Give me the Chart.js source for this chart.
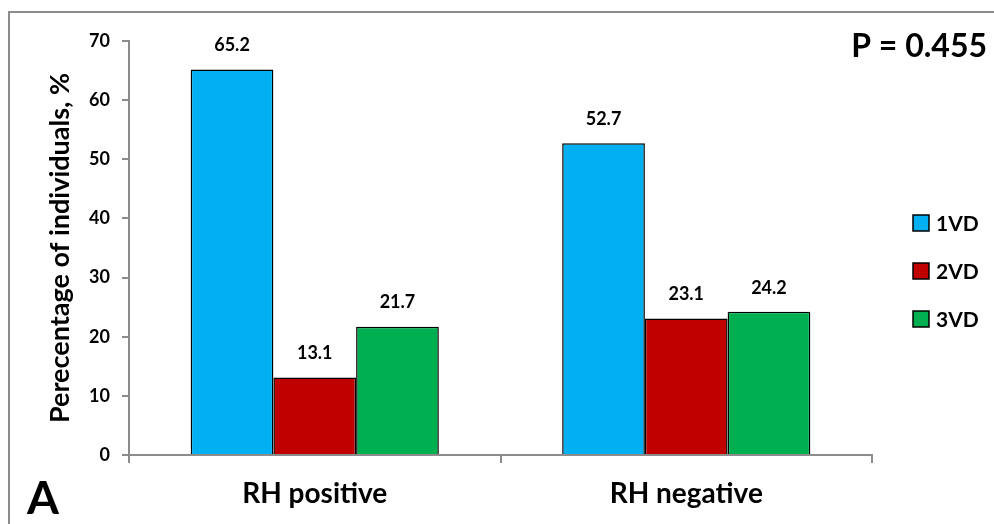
<!DOCTYPE html>
<html>
<head>
<meta charset="utf-8">
<script src="https://cdn.jsdelivr.net/npm/chart.js@4.4.1/dist/chart.umd.min.js"></script>
<style>
  html, body { margin: 0; padding: 0; background: #fff; }
  #wrap { width: 994px; height: 524px; position: relative; }
</style>
</head>
<body>
<div id="wrap"><canvas id="myChart"></canvas></div>
<script>
// Dados do gráfico
const categorias = ["RH positive", "RH negative"];
const series = ["1VD", "2VD", "3VD"];
const valores1VD = [65.2, 52.7];
const valores2VD = [13.1, 23.1];
const valores3VD = [21.7, 24.2];
const cores = ["#00B0F0", "#C00000", "#00B050"];
const ticksY = [0, 10, 20, 30, 40, 50, 60, 70];
const textoP = "P = 0.455";
const letraPainel = "A";

const cinza = "#8c8c8c";
const fonte = "Lato";

// Moldura, textos extras, rótulos e legenda
const extras = {
  id: "extras",
  beforeDraw(chart) {
    const ctx = chart.ctx;
    ctx.save();
    ctx.strokeStyle = cinza;
    ctx.lineWidth = 2;
    ctx.strokeRect(9, 12, chart.width + 20, chart.height + 20);
    ctx.restore();
  },
  afterDatasetsDraw(chart) {
    const ctx = chart.ctx;
    ctx.save();
    ctx.fillStyle = "#000";
    ctx.textAlign = "center";
    ctx.textBaseline = "middle";
    ctx.font = `bold 18px ${fonte}`;
    chart.data.datasets.forEach((ds, i) => {
      chart.getDatasetMeta(i).data.forEach((bar, j) => {
        ctx.fillText(ds.data[j].toFixed(1), bar.x, bar.y - 24);
      });
    });

    // legenda
    const area = chart.chartArea;
    ctx.textAlign = "left";
    ctx.font = `bold 21px ${fonte}`;
    chart.data.datasets.forEach((ds, i) => {
      const y = 223 + i * 48;
      const x = area.right + 41;
      ctx.fillStyle = ds.backgroundColor;
      ctx.fillRect(x, y - 8, 16, 16);
      ctx.strokeStyle = "#000";
      ctx.lineWidth = 1.5;
      ctx.strokeRect(x, y - 8, 16, 16);
      ctx.fillStyle = "#000";
      ctx.fillText(ds.label, x + 23, y + 1);
    });

    // P e letra
    ctx.textBaseline = "alphabetic";
    ctx.textAlign = "right";
    ctx.font = `bold 32px ${fonte}`;
    ctx.fillText(textoP, 987, 57);
    ctx.textAlign = "left";
    ctx.font = `bold 46px ${fonte}`;
    ctx.fillText(letraPainel, 27, 514);
    ctx.restore();
  }
};

const ctx = document.getElementById("myChart");
new Chart(ctx, {
  type: "bar",
  data: {
    labels: categorias,
    datasets: [
      { label: series[0], data: valores1VD, backgroundColor: cores[0] },
      { label: series[1], data: valores2VD, backgroundColor: cores[1] },
      { label: series[2], data: valores3VD, backgroundColor: cores[2] },
    ].map((d) => ({ ...d, borderColor: "#000", borderWidth: 1.5, borderSkipped: "start" })),
  },
  options: {
    responsive: true,
    maintainAspectRatio: false,
    animation: false,
    devicePixelRatio: 1,
    categoryPercentage: 0.668,
    barPercentage: 1,
    layout: { padding: { left: 9, top: 41, right: 122, bottom: 0 } },
    plugins: {
      legend: { display: false },
      tooltip: { enabled: false },
    },
    scales: {
      x: {
        afterFit: (s) => { s.height = 69; },
        grid: { offset: true, drawOnChartArea: false, tickLength: 8, color: cinza, lineWidth: 2 },
        border: { color: cinza, width: 2 },
        ticks: { color: "#000", font: { family: fonte, size: 28, weight: "bold" }, padding: 14 },
      },
      y: {
        min: 0,
        max: 70,
        afterFit: (s) => { s.width = 120; },
        afterBuildTicks: (s) => { s.ticks = ticksY.map((v) => ({ value: v })); },
        grid: { drawOnChartArea: false, tickLength: 7, color: cinza, lineWidth: 2 },
        border: { color: cinza, width: 2 },
        ticks: { color: "#000", font: { family: fonte, size: 18, weight: "bold" }, padding: 12 },
        title: {
          display: true,
          text: "Perecentage of individuals, %",
          color: "#000",
          font: { family: fonte, size: 27, weight: "bold" },
          padding: { top: 35, bottom: 0 },
        },
      },
    },
  },
  plugins: [extras],
});
</script>
</body>
</html>
